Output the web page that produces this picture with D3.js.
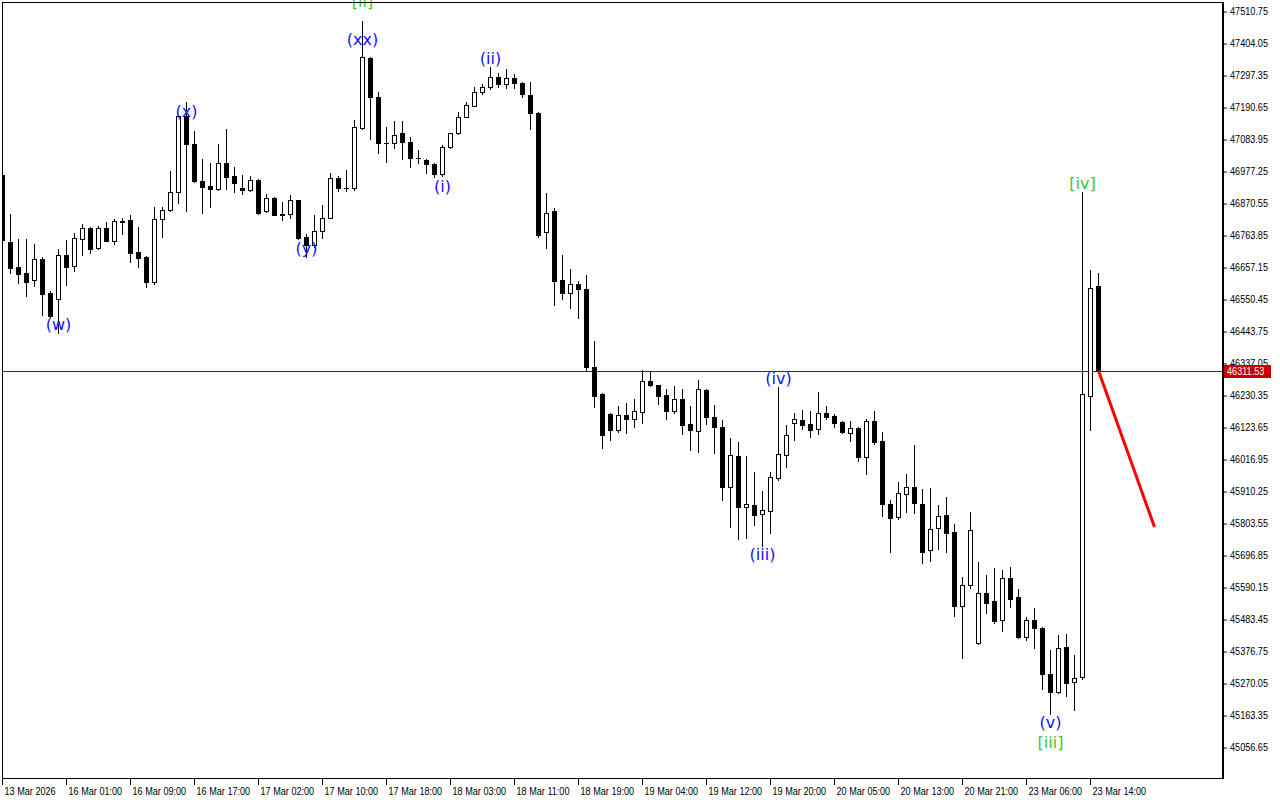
<!DOCTYPE html>
<html><head><meta charset="utf-8">
<script src="https://cdn.jsdelivr.net/npm/d3@7"></script>
<style>body{margin:0;background:#fff}svg{display:block}</style>
</head><body><svg id="c" width="1280" height="800"></svg>
<script>
// ---------- data (H1 candles, index = bar number) ----------
const opens = [46964,46740,46657,46637,46614,46684,46570,46550,46697,46660,
46750,46787,46720,46787,46744,46810,46814,46707,46690,46607,
46817,46847,46907,47161,47067,46944,46927,46917,47004,46961,
46921,46914,46947,46844,46887,46834,46834,46880,46757,46730,
46777,46820,46954,46921,46920,47121,47354,47224,47071,47071,
47104,47074,47021,47014,47001,46967,47057,47104,47157,47194,
47241,47257,47291,47267,47287,47271,47231,47171,46774,46844,
46614,46570,46600,46584,46324,46234,46167,46114,46164,46150,
46174,46277,46264,46230,46177,46217,46134,46110,46247,46157,
46124,45924,46027,45857,45864,45834,45844,45954,46030,46137,
46147,46134,46117,46170,46160,46140,46104,46120,46024,46144,
46077,45867,45824,45900,45924,45867,45713,45787,45830,45773,
45527,45597,45403,45570,45543,45480,45620,45557,45423,45480,
45453,45300,45240,45390,45273,45290,46227,46594];
const highs = [46971,46834,46750,46750,46734,46690,46577,46717,46747,46771,
46800,46790,46794,46807,46817,46820,46830,46790,46694,46857,
46857,46977,47164,47207,47111,47017,47004,47067,47117,46991,
46964,46961,46949,46900,46889,46874,46897,46882,46767,46830,
46864,46971,46961,46981,47147,47477,47356,47241,47124,47144,
47144,47091,47047,47017,47004,47064,47105,47174,47207,47257,
47267,47324,47304,47317,47301,47274,47274,47174,46904,46854,
46697,46650,46610,46630,46410,46236,46170,46194,46204,46217,
46314,46307,46265,46250,46260,46250,46194,46280,46250,46197,
46147,46087,46074,46027,45974,45910,45974,46257,46130,46170,
46180,46177,46240,46194,46167,46142,46144,46122,46150,46177,
46107,45880,45940,45967,46064,45917,45920,45864,45890,45800,
45623,45840,45673,45630,45653,45647,45657,45583,45490,45520,
45457,45380,45430,45433,45363,46907,46647,46637];
const lows = [46740,46637,46604,46560,46594,46497,46490,46437,46597,46644,
46697,46704,46717,46743,46734,46767,46674,46657,46590,46600,
46757,46845,46870,46844,46941,46837,46857,46915,46917,46907,
46900,46912,46834,46842,46829,46814,46820,46752,46690,46724,
46754,46819,46911,46911,46915,47117,47084,47037,47007,47054,
47017,46991,47004,46971,46957,46961,47055,47101,47156,47193,
47234,47251,47257,47254,47254,47224,47117,46757,46720,46530,
46550,46520,46487,46310,46190,46053,46080,46107,46104,46124,
46137,46260,46200,46150,46170,46100,46047,46040,46134,46037,
45880,45790,45750,45753,45797,45727,45770,45947,45990,46080,
46117,46090,46100,46150,46124,46104,46077,46010,45967,46067,
45827,45707,45817,45840,45837,45670,45677,45717,45707,45493,
45353,45587,45400,45503,45470,45443,45523,45420,45413,45387,
45250,45167,45238,45227,45180,45283,46114,46311.53];
const closes = [46747,46654,46634,46607,46684,46567,46494,46697,46657,46754,
46787,46717,46787,46744,46810,46807,46704,46687,46607,46817,
46847,46907,47161,47067,46944,46924,46917,47004,46957,46937,
46914,46947,46837,46887,46830,46832,46880,46754,46730,46777,
46820,46954,46921,46919,47124,47357,47224,47071,47069,47097,
47074,47021,47019,47001,46967,47057,47104,47157,47197,47241,
47257,47291,47267,47287,47271,47234,47171,46764,46837,46610,
46570,46600,46584,46324,46227,46097,46114,46164,46150,46177,
46277,46264,46227,46177,46217,46130,46114,46250,46157,46124,
45924,46030,45857,45867,45830,45847,45957,46034,46097,46150,
46130,46114,46170,46157,46137,46107,46120,46024,46144,46074,
45867,45820,45904,45924,45870,45707,45783,45827,45770,45527,
45597,45780,45570,45537,45477,45620,45550,45423,45480,45453,
45300,45240,45387,45270,45287,46234,46587,46311.53];

const timeTickBars = [0,8,16,24,32,40,48,56,64,72,80,88,96,104,112,120,128,136];
const timeTickLabels = ["13 Mar 2026","16 Mar 01:00","16 Mar 09:00","16 Mar 17:00",
"17 Mar 02:00","17 Mar 10:00","17 Mar 18:00","18 Mar 03:00","18 Mar 11:00",
"18 Mar 19:00","19 Mar 04:00","19 Mar 12:00","19 Mar 20:00","20 Mar 05:00",
"20 Mar 13:00","20 Mar 21:00","23 Mar 06:00","23 Mar 14:00"];
const priceTicks = [47510.75,47404.05,47297.35,47190.65,47083.95,46977.25,46870.55,
46763.85,46657.15,46550.45,46443.75,46337.05,46230.35,46123.65,46016.95,45910.25,
45803.55,45696.85,45590.15,45483.45,45376.75,45270.05,45163.35,45056.65];
const lastPrice = 46311.53;

const waveTexts  = ["(w)","(x)","(y)","(xx)","(i)","(ii)","(iii)","(iv)","(v)","[ii]","[iii]","[iv]"];
const waveBars   = [7,23,38,45,55,61,95,97,131,45,131,135];
const wavePrices = [46467,47174,46720,47417,46927,47351,45700,46284,45140,47542,45070,46934];
const waveDegree = ["minute","minute","minute","minute","minute","minute","minute","minute","minute","minor","minor","minor"];

const forecastBars = [137,144];
const forecastPrices = [46311.53,45790];

// ---------- drawing ----------
const W=1280,H=800, L=2, R=1222, T=2, B=778;
const svg = d3.select('#c');
svg.append('rect').attr('width',W).attr('height',H).attr('fill','#fff');

const x = d3.scaleLinear().domain([0,152.5]).range([L,R]);
const y = d3.scaleLinear().domain([45056.65,47510.75]).range([747,11]);

svg.append('defs').append('clipPath').attr('id','clip')
  .append('rect').attr('x',L).attr('y',T).attr('width',R-L).attr('height',B-T);
const plot = svg.append('g').attr('clip-path','url(#clip)');

// last price line
const yl = Math.round(y(lastPrice))+0.5;
plot.append('line').attr('x1',L).attr('x2',R).attr('y1',yl).attr('y2',yl)
  .attr('stroke','#7a0f0f').attr('stroke-width',1);

// candles
const candles = plot.append('g');
opens.forEach((o,i)=>{
  const c = closes[i], h = highs[i], l = lows[i];
  const cx = Math.round(x(i));
  const g = candles.append('g');
  g.append('line').attr('x1',cx+0.5).attr('x2',cx+0.5)
    .attr('y1',Math.round(y(h))).attr('y2',Math.round(y(l))+1)
    .attr('stroke','#000').attr('stroke-width',1);
  const top = Math.round(y(Math.max(o,c))), bot = Math.round(y(Math.min(o,c)));
  if (bot-top < 2) {
    g.append('rect').attr('x',cx-2).attr('y',top).attr('width',5).attr('height',Math.max(1,bot-top+1)).attr('fill','#000');
  } else if (c >= o) {
    g.append('rect').attr('x',cx-1.5).attr('y',top+0.5).attr('width',4).attr('height',bot-top)
      .attr('fill','#fff').attr('stroke','#000').attr('stroke-width',1);
  } else {
    g.append('rect').attr('x',cx-2).attr('y',top).attr('width',5).attr('height',bot-top+1).attr('fill','#000');
  }
});

// forecast line
plot.append('line')
  .attr('x1',x(forecastBars[0])+0.5).attr('y1',y(forecastPrices[0]))
  .attr('x2',x(forecastBars[1])+0.5).attr('y2',y(forecastPrices[1]))
  .attr('stroke','#ff0000').attr('stroke-width',3);

// wave labels
const degColor = {minute:'#1010ff', minor:'#3cc83c'};
waveTexts.forEach((t,i)=>{
  svg.append('text').attr('x',x(waveBars[i])+0.5).attr('y',y(wavePrices[i]))
    .attr('text-anchor','middle').attr('dominant-baseline','central')
    .attr('font-family','DejaVu Sans, Verdana, sans-serif').attr('font-size',16)
    .attr('fill',degColor[waveDegree[i]]).text(t);
});

// frame
svg.append('line').attr('x1',L).attr('x2',R).attr('y1',T+0.5).attr('y2',T+0.5).attr('stroke','#000');
svg.append('line').attr('x1',L+0.5).attr('x2',L+0.5).attr('y1',T).attr('y2',B).attr('stroke','#000');
svg.append('line').attr('x1',L).attr('x2',R+1).attr('y1',B+0.5).attr('y2',B+0.5).attr('stroke','#000').attr('stroke-width',1);
svg.append('line').attr('x1',R+1).attr('x2',R+1).attr('y1',T).attr('y2',B+1).attr('stroke','#000').attr('stroke-width',2);

const axisFont = '"Liberation Sans", Arial, sans-serif';

// narrow the axis font to the reference's glyph widths
function narrow(sel, ratio){
  sel.each(function(){
    const w = this.getComputedTextLength();
    if (w > 0) d3.select(this).attr('textLength', (w*ratio).toFixed(2)).attr('lengthAdjust','spacingAndGlyphs');
  });
}

// y axis
const yAxis = svg.append('g').attr('transform',`translate(${R+2},0)`)
  .call(d3.axisRight(y).tickValues(priceTicks).tickSize(3).tickPadding(3).tickFormat(d=>d.toFixed(2)));
yAxis.select('.domain').remove();
yAxis.selectAll('.tick line').attr('stroke','#000').attr('transform','translate(0,0.5)');
yAxis.selectAll('text').attr('font-family',axisFont).attr('font-size',11).attr('fill','#000').attr('dy','0.36em');

// last price box
svg.append('rect').attr('x',1224).attr('y',yl-6.5).attr('width',47).attr('height',13).attr('fill','#c80000');
const lp = svg.append('text').attr('x',1227).attr('y',yl).attr('dy','0.36em')
  .attr('font-family',axisFont).attr('font-size',11).attr('fill','#fff').text(lastPrice.toFixed(2));

// x axis
const xAxis = svg.append('g').attr('transform',`translate(0,${B+1})`)
  .call(d3.axisBottom(x).tickValues(timeTickBars).tickSize(6).tickFormat((d,i)=>timeTickLabels[i]));
xAxis.select('.domain').remove();
xAxis.selectAll('.tick').attr('transform',d=>`translate(${Math.round(x(d))+0.5},0)`);
xAxis.selectAll('.tick line').attr('stroke','#000');
xAxis.selectAll('text').attr('font-family',axisFont).attr('font-size',11).attr('fill','#000')
  .attr('text-anchor','start').attr('x',2).attr('y',16).attr('dy',0);

// scale glyph widths so "47510.75" is ~38px wide (reference font is narrower)
const probe = yAxis.select('text').node().getComputedTextLength();
const ratio = probe > 0 ? Math.min(1, 38/probe) : 1;
narrow(yAxis.selectAll('text'), ratio);
narrow(lp, ratio);
narrow(xAxis.selectAll('text'), ratio);
</script></body></html>
